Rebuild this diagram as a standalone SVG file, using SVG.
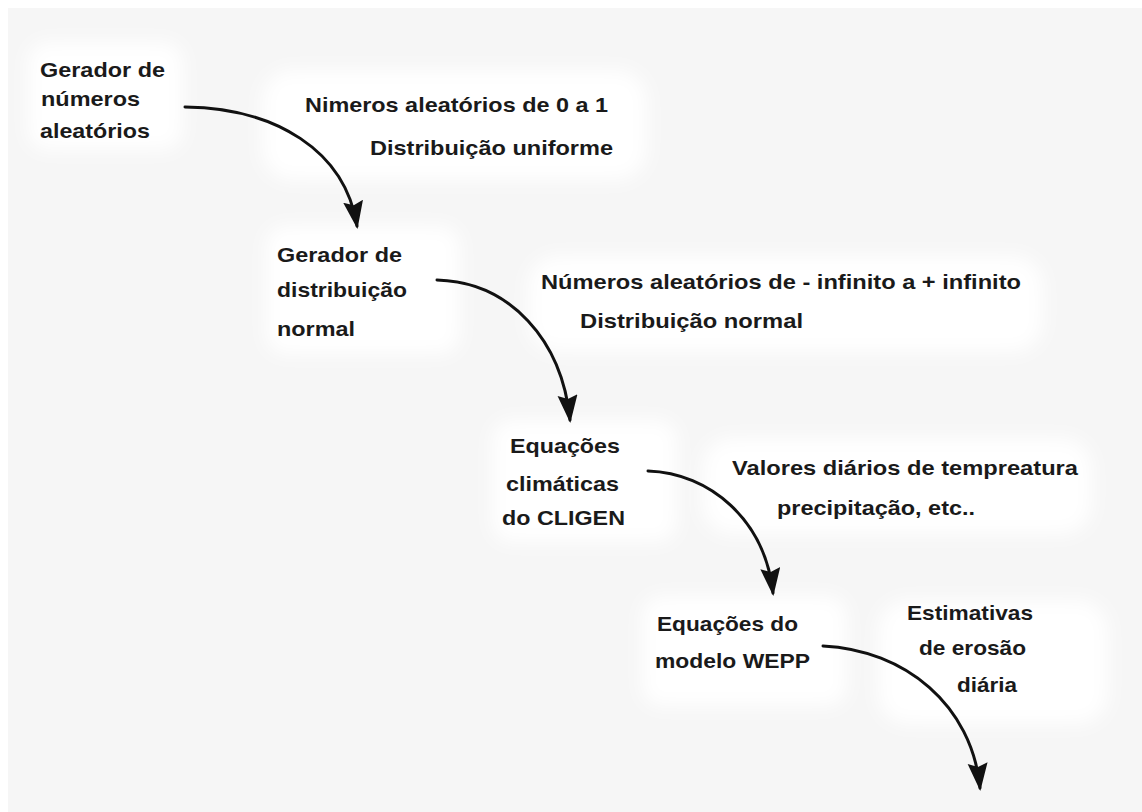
<svg xmlns="http://www.w3.org/2000/svg" width="1142" height="812" viewBox="0 0 1142 812">
<style>
  text { font-family: "Liberation Sans", Arial, sans-serif; font-weight: bold; font-size: 21px; fill: #1a1a1a; }
  .conn { fill: none; stroke: #111; stroke-width: 3; stroke-linecap: round; }
  .blob { fill: #ffffff; filter: url(#soft); }
</style>
<defs>
  <filter id="soft" x="-30%" y="-40%" width="160%" height="180%">
    <feGaussianBlur stdDeviation="9"/>
  </filter>
  <marker id="arr" markerUnits="userSpaceOnUse" markerWidth="30" markerHeight="22" refX="25" refY="10" orient="auto">
    <path d="M0,0 L28,10 L0,20 L4,10 z" fill="#111"/>
  </marker>
</defs>
<rect x="0" y="0" width="1142" height="812" fill="#ffffff"/>
<rect x="8" y="8" width="1134" height="804" fill="#f6f6f6"/>

<g id="backgrounds">
  <rect class="blob" x="28" y="42" width="155" height="108" rx="20"/>
  <rect class="blob" x="262" y="70" width="385" height="110" rx="30"/>
  <rect class="blob" x="266" y="226" width="194" height="128" rx="20"/>
  <rect class="blob" x="528" y="256" width="515" height="96" rx="30"/>
  <rect class="blob" x="492" y="420" width="185" height="122" rx="20"/>
  <rect class="blob" x="702" y="438" width="390" height="96" rx="30"/>
  <rect class="blob" x="642" y="596" width="205" height="110" rx="20"/>
  <rect class="blob" x="878" y="600" width="230" height="124" rx="30"/>
</g>

<g id="connectors">
  <path class="conn" marker-end="url(#arr)" d="M185,107 C275,108 345,150 357,226"/>
  <path class="conn" marker-end="url(#arr)" d="M437,280 C510,282 562,340 570,420"/>
  <path class="conn" marker-end="url(#arr)" d="M648,471 C710,473 765,520 773,593"/>
  <path class="conn" marker-end="url(#arr)" d="M823,646 C905,650 972,705 980,788"/>
</g>

<g id="node-gerador-numeros">
  <text x="40" y="77" textLength="125" lengthAdjust="spacingAndGlyphs">Gerador de</text>
  <text x="41" y="106" textLength="99" lengthAdjust="spacingAndGlyphs">números</text>
  <text x="40" y="138" textLength="110" lengthAdjust="spacingAndGlyphs">aleatórios</text>
</g>

<g id="label-uniforme">
  <text x="305" y="112" textLength="303" lengthAdjust="spacingAndGlyphs">Nimeros aleatórios de 0 a 1</text>
  <text x="370" y="155" textLength="243" lengthAdjust="spacingAndGlyphs">Distribuição uniforme</text>
</g>

<g id="node-gerador-normal">
  <text x="277" y="262" textLength="125" lengthAdjust="spacingAndGlyphs">Gerador de</text>
  <text x="277" y="297" textLength="130" lengthAdjust="spacingAndGlyphs">distribuição</text>
  <text x="277" y="336" textLength="78" lengthAdjust="spacingAndGlyphs">normal</text>
</g>

<g id="label-normal">
  <text x="541" y="289" textLength="480" lengthAdjust="spacingAndGlyphs">Números aleatórios de - infinito a + infinito</text>
  <text x="580" y="328" textLength="223" lengthAdjust="spacingAndGlyphs">Distribuição normal</text>
</g>

<g id="node-cligen">
  <text x="510" y="453" textLength="110" lengthAdjust="spacingAndGlyphs">Equações</text>
  <text x="506" y="491" textLength="113" lengthAdjust="spacingAndGlyphs">climáticas</text>
  <text x="502" y="525" textLength="123" lengthAdjust="spacingAndGlyphs">do CLIGEN</text>
</g>

<g id="label-valores">
  <text x="732" y="475" textLength="346" lengthAdjust="spacingAndGlyphs">Valores diários de tempreatura</text>
  <text x="777" y="515" textLength="198" lengthAdjust="spacingAndGlyphs">precipitação, etc..</text>
</g>

<g id="node-wepp">
  <text x="657" y="631" textLength="141" lengthAdjust="spacingAndGlyphs">Equações do</text>
  <text x="655" y="668" textLength="155" lengthAdjust="spacingAndGlyphs">modelo WEPP</text>
</g>

<g id="label-erosao">
  <text x="907" y="620" textLength="126" lengthAdjust="spacingAndGlyphs">Estimativas</text>
  <text x="919" y="655" textLength="107" lengthAdjust="spacingAndGlyphs">de erosão</text>
  <text x="957" y="692" textLength="60" lengthAdjust="spacingAndGlyphs">diária</text>
</g>
</svg>
